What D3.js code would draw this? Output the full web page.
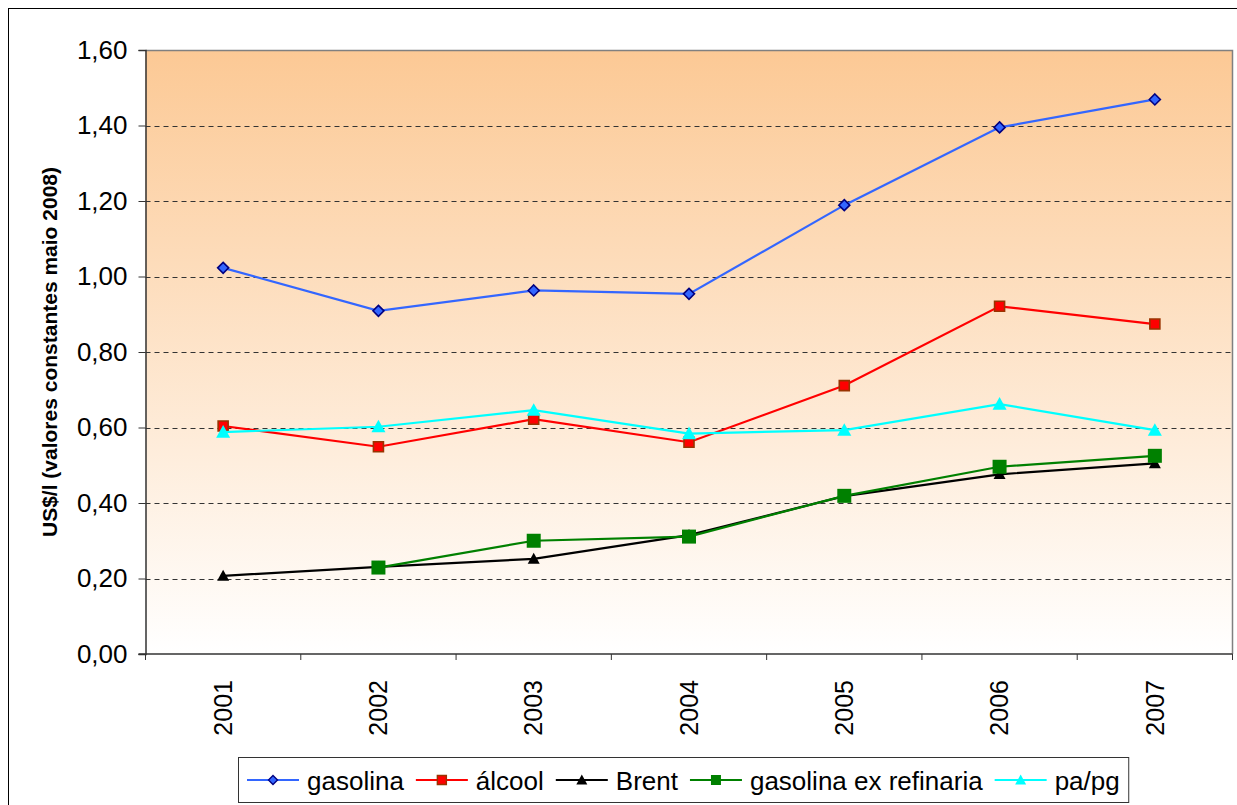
<!DOCTYPE html>
<html>
<head>
<meta charset="utf-8">
<script src="https://cdn.jsdelivr.net/npm/d3@7"></script>
<style>
  html, body { margin: 0; padding: 0; background: #fff; }
  svg { display: block; font-family: "Liberation Sans", Arial, sans-serif; }
</style>
</head>
<body>
<svg id="chart" width="1237" height="805"></svg>
<script>
// Years on the category axis
const years = ["2001", "2002", "2003", "2004", "2005", "2006", "2007"];

// Prices in US$/l, constant values of May 2008
const gasolina        = [1.023, 0.909, 0.963, 0.954, 1.189, 1.395, 1.469];
const alcool          = [0.604, 0.549, 0.622, 0.561, 0.711, 0.921, 0.874];
const brent           = [0.207, 0.231, 0.252, 0.315, 0.418, 0.476, 0.505];
const gasolinaExRef   = [null, 0.229, 0.300, 0.311, 0.419, 0.496, 0.525];
const papg            = [0.588, 0.602, 0.646, 0.584, 0.593, 0.662, 0.593];

// Value-axis ticks
const yTicks = [0, 0.2, 0.4, 0.6, 0.8, 1.0, 1.2, 1.4, 1.6];

const seriesNames = ["gasolina", "álcool", "Brent", "gasolina ex refinaria", "pa/pg"];

const series = [
  { name: seriesNames[0], values: gasolina,      line: "#3366FF", marker: "diamond",  fill: "#3366FF", stroke: "#000080", size: 11, lsize: 9 },
  { name: seriesNames[1], values: alcool,        line: "#FF0000", marker: "square",   fill: "#FF0000", stroke: "#993300", size: 10, lsize: 9 },
  { name: seriesNames[2], values: brent,         line: "#000000", marker: "triangle", fill: "#000000", stroke: "none",    size: 12, lsize: 11 },
  { name: seriesNames[3], values: gasolinaExRef, line: "#008000", marker: "square",   fill: "#008000", stroke: "none",    size: 14, lsize: 10 },
  { name: seriesNames[4], values: papg,          line: "#00FFFF", marker: "triangle", fill: "#00FFFF", stroke: "none",    size: 14, lsize: 11 }
];

const svg = d3.select("#chart");
const W = 1237, H = 805;

// Plot area
const plot = { left: 145.5, top: 50, right: 1232.5, bottom: 654 };

const x = d3.scaleBand().domain(years).range([plot.left, plot.right]).padding(0);
const y = d3.scaleLinear().domain([0, 1.6]).range([plot.bottom, plot.top]);

// Outer frame
svg.append("rect")
  .attr("x", 8.5).attr("y", 8.5)
  .attr("width", W + 10).attr("height", H + 10)
  .attr("fill", "#fff").attr("stroke", "#000").attr("stroke-width", 1);

// Background gradient of the plot area
const defs = svg.append("defs");
const grad = defs.append("linearGradient")
  .attr("id", "bg").attr("x1", 0).attr("y1", 0).attr("x2", 0).attr("y2", 1);
grad.append("stop").attr("offset", "0%").attr("stop-color", "#FCC995");
grad.append("stop").attr("offset", "100%").attr("stop-color", "#FFFFFF");

svg.append("rect")
  .attr("x", plot.left).attr("y", plot.top)
  .attr("width", plot.right - plot.left).attr("height", plot.bottom - plot.top)
  .attr("fill", "url(#bg)");

// Dashed gridlines
svg.append("g")
  .selectAll("line")
  .data(yTicks.filter(d => d > 0 && d < 1.6))
  .join("line")
  .attr("x1", plot.left).attr("x2", plot.right)
  .attr("y1", d => Math.round(y(d)) + 0.5).attr("y2", d => Math.round(y(d)) + 0.5)
  .attr("stroke", "#333")
  .attr("stroke-width", 1)
  .attr("stroke-dasharray", "5,4");

// Plot-area border (top and right)
svg.append("path")
  .attr("d", `M${plot.left},${plot.top + 0.5}H${plot.right}V${plot.bottom}`)
  .attr("fill", "none").attr("stroke", "#808080").attr("stroke-width", 1.5);

const fmt = d => d.toFixed(2).replace(".", ",");

// Value axis
const yAxis = svg.append("g")
  .attr("transform", `translate(${plot.left},0)`)
  .call(d3.axisLeft(y).tickValues(yTicks).tickFormat(fmt).tickSize(7).tickPadding(11));
yAxis.select(".domain").attr("stroke", "#333").attr("stroke-width", 1.5);
yAxis.selectAll(".tick line").attr("stroke", "#333");
yAxis.selectAll(".tick text")
  .attr("font-size", 26).attr("fill", "#000")
  .attr("font-family", "'Liberation Sans', Arial, sans-serif");

// Category axis: ticks sit between categories
const xAxisG = svg.append("g").attr("transform", `translate(0,${plot.bottom})`);
xAxisG.append("line")
  .attr("x1", plot.left - 7).attr("x2", plot.right)
  .attr("y1", 0).attr("y2", 0)
  .attr("stroke", "#333").attr("stroke-width", 1.5);
const bounds = years.map(yr => x(yr)).concat([plot.right]);
xAxisG.selectAll("line.tk")
  .data(bounds)
  .join("line").attr("class", "tk")
  .attr("x1", d => d).attr("x2", d => d)
  .attr("y1", 0).attr("y2", 6)
  .attr("stroke", "#333");
xAxisG.selectAll("text")
  .data(years)
  .join("text")
  .attr("transform", d => `translate(${x(d) + x.bandwidth() / 2},26) rotate(-90)`)
  .attr("text-anchor", "end")
  .attr("dy", "0.35em")
  .attr("font-size", 25)
  .attr("fill", "#000")
  .text(d => d);

// Axis title
svg.append("text")
  .attr("transform", `translate(50,${(plot.top + plot.bottom) / 2}) rotate(-90)`)
  .attr("text-anchor", "middle")
  .attr("dy", "0.35em")
  .attr("font-size", 21)
  .attr("font-weight", "bold")
  .attr("fill", "#000")
  .text("US$/l (valores constantes maio 2008)");

// Marker shapes
function markerPath(type, s) {
  const h = s / 2;
  if (type === "diamond") return `M0,${-h}L${h},0L0,${h}L${-h},0Z`;
  if (type === "square") return `M${-h},${-h}H${h}V${h}H${-h}Z`;
  // triangle
  return `M0,${-h}L${h},${h * 0.8}L${-h},${h * 0.8}Z`;
}

const cx = i => x(years[i]) + x.bandwidth() / 2;

// Lines and markers
series.forEach(s => {
  const pts = s.values.map((v, i) => ({ v, i })).filter(p => p.v !== null);
  const line = d3.line().x(p => cx(p.i)).y(p => y(p.v));
  svg.append("path")
    .datum(pts)
    .attr("d", line)
    .attr("fill", "none")
    .attr("stroke", s.line)
    .attr("stroke-width", 2.2);
  svg.append("g")
    .selectAll("path")
    .data(pts)
    .join("path")
    .attr("transform", p => `translate(${cx(p.i)},${y(p.v)})`)
    .attr("d", markerPath(s.marker, s.size))
    .attr("fill", s.fill)
    .attr("stroke", s.stroke)
    .attr("stroke-width", s.stroke === "none" ? 0 : 1.6);
});

// Legend
const legend = svg.append("g");
const lgBox = legend.append("rect")
  .attr("y", 757.5).attr("height", 45)
  .attr("fill", "#fff").attr("stroke", "#333").attr("stroke-width", 1);
let lx = 247;
const ly = 780;
series.forEach(s => {
  legend.append("line")
    .attr("x1", lx).attr("x2", lx + 52)
    .attr("y1", ly).attr("y2", ly)
    .attr("stroke", s.line).attr("stroke-width", 2);
  legend.append("path")
    .attr("transform", `translate(${lx + 26},${ly})`)
    .attr("d", markerPath(s.marker, s.lsize))
    .attr("fill", s.fill)
    .attr("stroke", s.stroke)
    .attr("stroke-width", s.stroke === "none" ? 0 : 1.4);
  const t = legend.append("text")
    .attr("x", lx + 60).attr("y", ly + 1)
    .attr("dy", "0.36em")
    .attr("font-size", 26)
    .attr("fill", "#000")
    .text(s.name);
  lx += 60 + t.node().getComputedTextLength() + 12;
});
lgBox.attr("x", 238.5).attr("width", lx - 238.5 - 3);
</script>
</body>
</html>
